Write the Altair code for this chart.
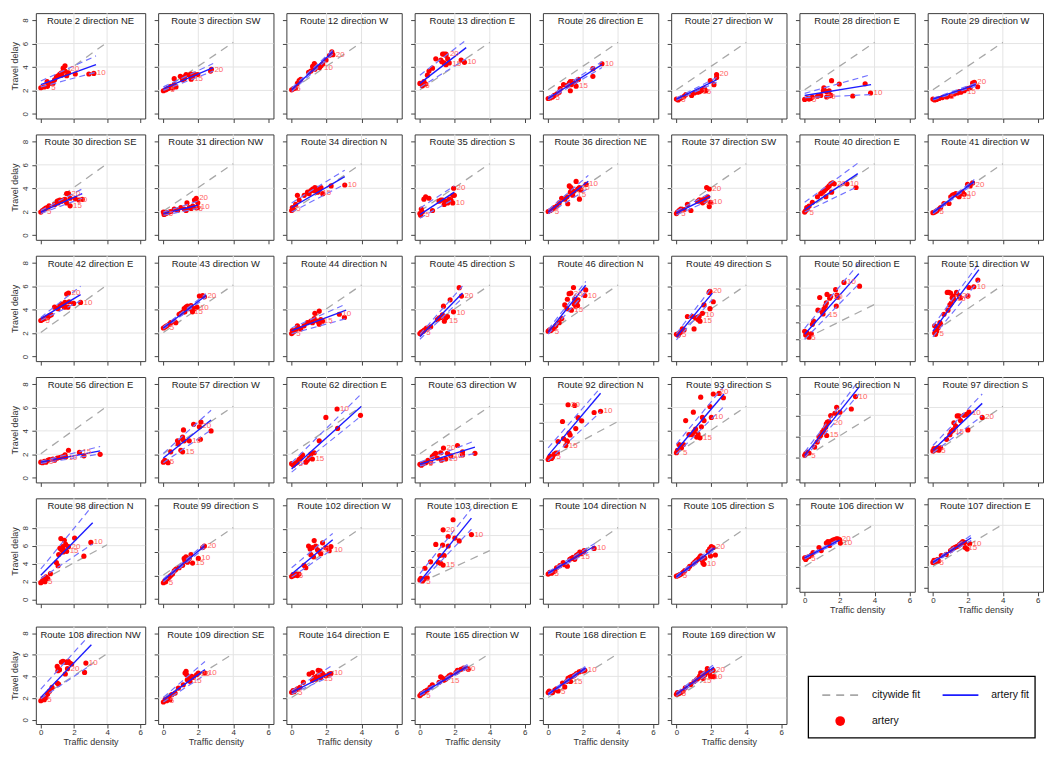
import altair as alt
import pandas as pd

FONT = "Liberation Sans"

# ---------------- panel identity ----------------
ROUTES = [2, 3, 12, 13, 26, 27, 28, 29,
          30, 31, 34, 35, 36, 37, 40, 41,
          42, 43, 44, 45, 46, 49, 50, 51,
          56, 57, 62, 63, 92, 93, 96, 97,
          98, 99, 102, 103, 104, 105, 106, 107,
          108, 109, 164, 165, 168, 169]
DIRECTIONS = ["NE", "SW", "W", "E", "E", "W", "E", "W",
              "SE", "NW", "N", "S", "NE", "SW", "E", "W",
              "E", "W", "N", "S", "N", "S", "E", "W",
              "E", "W", "E", "W", "N", "S", "N", "S",
              "N", "S", "W", "E", "N", "S", "W", "E",
              "NW", "SE", "E", "W", "E", "W"]

X_TICKS = [0, 2, 4, 6]
Y_TICKS = [0, 2, 4, 6, 8]
GRID_X = [2, 4]
GRID_Y = [2, 4, 6, 8]
CITY_X = [0, 4]
CITY_Y = [2.05, 6.1]
LEGEND_LABELS = ["citywide fit", "artery fit", "artery"]

# panels whose y range differs from the usual one
Y_RANGE = {50: (-0.55, 11.8), 92: (-0.5, 10.9), 96: (-0.3, 9.6),
           98: (-0.5, 11.3), 103: (-0.6, 12.7)}

# ---------------- observations (traffic density, travel delay) ----------------
P2 = [(0,2.23),(0.2,2.3),(0.4,2.35),(0.5,2.6),(0.38,2.75),(0.73,2.6),(0.83,2.9),(0.94,3.15),(1.04,3.25),(1.15,3.4),(1.25,3.5),(1.25,3.3),(1.35,3.9),(1.46,4.1),(1.46,3.65),(1.56,3.25),(1.67,3.5),(2.08,3.4),(2.9,3.4),(3.2,3.45)]
P3 = [(0,1.97),(0.14,2.05),(0.23,2.15),(0.33,2.2),(0.43,2.35),(0.52,2.2),(0.62,2.5),(0.72,2.3),(0.62,3.0),(0.97,3.2),(1.1,2.9),(1.2,3.15),(1.3,3.35),(1.2,3.0),(1.49,3.3),(1.59,2.95),(1.68,3.15),(1.59,3.4),(1.78,3.4),(1.97,3.35),(2.75,3.8),(2.7,3.65)]
P12 = [(0,2.05),(0.1,2.15),(0.23,2.2),(0.33,2.6),(0.43,2.85),(0.52,2.95),(0.97,3.55),(1.1,3.65),(1.2,4.05),(1.3,4.3),(1.33,3.8),(1.45,4.0),(1.6,3.95),(1.68,4.1),(1.97,4.6),(1.78,4.25),(2.17,5.0),(2.3,5.3),(2.36,5.05)]
P13 = [(0,2.6),(0.14,2.4),(0.23,2.75),(0.33,2.55),(0.43,3.3),(0.52,3.65),(0.72,3.9),(0.91,4.7),(1.2,4.6),(1.3,5.1),(1.39,5.1),(1.49,5.1),(1.39,4.35),(1.26,4.45),(1.59,4.7),(1.49,4.2),(1.68,4.35),(1.49,5.0),(2.36,4.6),(2.55,4.4)]
P26 = [(0,1.31),(0.12,1.36),(0.25,1.44),(0.35,1.57),(0.5,1.7),(0.63,1.84),(0.69,2.15),(0.88,2.49),(1.08,2.41),(1.21,2.62),(1.27,2.76),(1.31,2.49),(1.35,2.67),(1.4,2.76),(1.5,2.62),(1.6,2.36),(1.27,1.97),(1.73,2.94),(2.56,3.2),(2.56,3.86),(3.08,4.28)]
P27 = [(0,1.26),(0.1,1.18),(0.21,1.31),(0.31,1.39),(0.44,1.5),(0.54,1.65),(0.87,1.57),(1.02,1.78),(1.21,1.84),(1.31,1.89),(1.4,1.97),(1.5,2.05),(1.6,2.15),(1.69,1.97),(1.94,2.83),(2.15,2.49),(2.3,3.1),(2.3,3.36)]
P28 = [(0,1.23),(0.15,1.31),(0.25,1.26),(0.35,1.31),(0.44,1.44),(0.73,1.5),(0.92,1.57),(1.07,1.97),(1.1,2.23),(1.26,1.89),(1.4,1.97),(1.5,1.57),(1.54,2.83),(1.98,2.55),(1.26,1.44),(2.75,1.52),(3.46,2.57),(3.77,1.78)]
P29 = [(0,1.26),(0.1,1.18),(0.21,1.23),(0.35,1.31),(0.54,1.39),(0.79,1.44),(1.02,1.52),(1.21,1.7),(1.4,1.78),(1.5,1.89),(1.6,1.84),(1.79,1.97),(1.98,2.15),(2.13,2.23),(2.27,2.62),(2.37,2.7),(2.56,2.31)]
P30 = [(0,1.97),(0.1,2.1),(0.2,2.2),(0.3,2.3),(0.4,2.35),(0.5,2.5),(0.83,2.6),(1.0,2.9),(1.04,2.75),(1.15,3.0),(1.25,2.9),(1.35,3.0),(1.46,3.05),(1.56,3.55),(1.67,3.55),(1.77,3.15),(1.77,2.5),(2.08,3.1),(2.3,3.0),(2.5,3.05),(1.56,2.75)]
P31 = [(0,1.97),(0.04,1.76),(0.14,1.84),(0.23,1.92),(0.33,1.97),(0.43,2.02),(0.62,2.23),(0.81,2.1),(1.0,2.36),(1.2,2.23),(1.3,2.1),(1.35,2.75),(1.49,2.36),(1.59,2.28),(1.68,2.49),(1.78,3.0),(1.88,3.15),(1.97,2.76),(1.88,2.36),(1.97,2.36)]
P34 = [(0,2.1),(0.1,2.23),(0.04,2.36),(0.23,2.62),(0.33,3.4),(0.43,3.0),(0.72,3.4),(0.91,3.67),(1.0,3.54),(1.1,3.8),(1.2,3.94),(1.3,3.8),(1.33,4.07),(1.45,4.0),(1.49,3.67),(1.59,3.94),(1.68,4.07),(1.78,3.54),(2.26,4.2),(3.04,4.28)]
P35 = [(0,1.84),(0.04,1.7),(0.14,1.97),(0.08,2.23),(0.23,3.07),(0.33,3.28),(0.52,3.15),(0.72,2.1),(1.1,2.9),(1.2,3.0),(1.3,3.0),(1.39,2.62),(1.49,2.9),(1.59,2.75),(1.68,3.07),(1.78,3.0),(1.88,3.4),(1.93,4.0),(1.97,3.4),(1.88,2.75)]
P36 = [(0,2.02),(0.12,2.1),(0.25,2.23),(0.35,2.36),(0.5,2.49),(0.63,2.75),(0.77,3.15),(0.96,3.07),(1.08,3.28),(1.12,2.68),(1.21,4.2),(1.31,4.07),(1.27,3.67),(1.4,3.41),(1.46,3.75),(1.6,4.59),(1.69,3.94),(1.79,3.07),(1.79,4.07),(1.88,3.86),(2.17,4.33)]
P37 = [(0,1.84),(0.06,1.97),(0.15,2.1),(0.25,2.23),(0.44,2.18),(0.63,2.62),(0.83,2.1),(1.21,2.89),(1.31,3.02),(1.4,2.89),(1.5,3.02),(1.6,2.89),(1.63,3.07),(1.73,4.07),(1.88,3.94),(1.79,3.28),(1.88,2.44),(1.94,2.81),(1.5,2.76)]
P40 = [(0,1.97),(0.06,2.1),(0.15,2.23),(0.12,2.36),(0.25,2.49),(0.44,2.81),(0.73,3.28),(0.92,3.54),(1.02,3.67),(1.12,3.8),(1.21,3.94),(1.31,4.07),(1.4,4.2),(1.5,4.38),(1.6,4.46),(1.69,4.38),(1.54,3.67),(1.21,3.28),(2.42,4.38),(2.94,4.07)]
P41 = [(0,1.92),(0.1,1.97),(0.21,2.07),(0.35,2.23),(0.44,2.36),(0.63,2.7),(0.92,2.7),(1.02,3.28),(1.12,3.41),(1.21,3.46),(1.31,3.54),(1.4,3.41),(1.5,3.28),(1.6,3.54),(1.69,3.67),(1.79,3.49),(1.98,4.33),(2.13,4.2),(2.27,4.46)]
P42 = [(0,3.07),(0.1,3.15),(0.21,3.23),(0.31,3.28),(0.42,3.33),(0.52,3.49),(0.63,3.55),(0.83,4.21),(1.04,4.08),(1.15,4.35),(1.25,4.48),(1.35,4.35),(1.46,4.61),(1.42,4.21),(1.56,5.33),(1.67,5.41),(1.63,4.21),(1.71,4.67),(1.98,4.53),(2.4,4.61)]
P43 = [(0,2.43),(0.1,2.53),(0.19,2.61),(0.33,2.75),(0.42,2.88),(0.62,3.01),(0.71,2.88),(0.9,3.6),(1.0,3.68),(1.1,3.76),(1.19,4.08),(1.23,3.81),(1.29,4.21),(1.38,4.29),(1.48,4.08),(1.58,4.35),(1.67,3.81),(1.77,4.08),(1.92,4.21),(2.06,5.15),(2.25,5.2),(2.35,5.09)]
P44 = [(0,1.95),(0.04,2.21),(0.1,2.08),(0.23,2.27),(0.33,2.61),(0.42,2.43),(0.52,2.35),(0.71,2.61),(0.9,2.88),(1.1,3.01),(1.19,2.88),(1.29,3.23),(1.33,3.68),(1.48,3.01),(1.58,3.87),(1.58,2.75),(1.67,3.15),(1.77,3.01),(2.73,3.6),(3.02,3.33)]
P45 = [(0,1.95),(0.08,2.08),(0.19,2.16),(0.27,2.27),(0.38,2.43),(0.62,2.53),(1.0,3.15),(1.1,3.28),(1.19,3.33),(1.29,3.55),(1.35,4.29),(1.48,3.28),(1.58,3.41),(1.73,4.83),(1.92,3.81),(2.25,5.87),(2.38,5.15),(1.4,3.01)]
P46 = [(0,2.16),(0.08,2.27),(0.15,2.21),(0.25,2.35),(0.34,2.43),(0.44,2.61),(0.63,2.88),(0.78,3.23),(0.95,4.4),(1.07,4.08),(1.1,4.88),(1.2,5.36),(1.3,5.41),(1.33,3.95),(1.45,5.89),(1.49,4.48),(1.52,4.88),(1.58,4.29),(1.64,4.61),(1.68,4.35),(1.71,4.83),(2.1,5.2),(2.15,5.68)]
P49 = [(0,1.89),(0.1,1.81),(0.15,1.95),(0.25,2.08),(0.34,2.35),(0.44,2.27),(0.63,3.41),(0.91,3.41),(1.01,2.35),(1.1,3.28),(1.2,3.33),(1.24,3.15),(1.35,3.01),(1.3,3.41),(1.49,3.68),(1.58,4.4),(1.87,5.47),(1.92,5.55),(1.92,4.08),(2.11,4.67)]
P50 = [(0,2.95),(0.06,2.5),(0.13,2.77),(0.25,2.26),(0.38,2.66),(0.44,3.76),(0.51,4.13),(0.76,5.42),(0.86,6.9),(1.01,5.17),(1.1,5.54),(1.18,5.9),(1.24,6.27),(1.05,4.98),(1.28,7.27),(1.43,6.83),(1.49,7.01),(1.77,7.82),(1.85,7.2),(1.81,5.9),(1.9,6.94),(2.25,8.67),(3.14,8.23)]
P51 = [(0.1,2.0),(0.15,1.89),(0.21,2.16),(0.1,2.61),(0.29,2.43),(0.4,2.88),(0.44,2.75),(0.63,3.6),(0.86,3.95),(0.97,4.4),(1.05,4.56),(0.82,5.47),(0.91,5.47),(1.01,5.41),(1.1,5.01),(1.16,5.15),(1.35,5.47),(1.49,5.2),(1.58,5.01),(1.2,4.88),(2.0,5.15),(2.06,5.89),(2.34,5.95),(2.57,6.53)]
P56 = [(0,1.33),(0.1,1.28),(0.21,1.41),(0.31,1.33),(0.42,1.49),(0.52,1.55),(0.73,1.6),(0.83,1.49),(1.0,1.68),(1.15,1.73),(1.25,1.76),(1.35,1.81),(1.46,1.95),(1.5,1.76),(1.67,2.35),(2.33,2.16),(2.6,1.87),(3.58,2.0)]
P57 = [(0,1.33),(0.08,1.49),(0.19,1.41),(0.27,1.28),(0.42,2.21),(0.81,3.15),(0.85,2.88),(1.1,3.28),(1.1,3.47),(1.15,4.08),(1.19,3.15),(1.0,2.35),(1.1,2.21),(1.48,3.15),(1.73,4.56),(2.06,4.35),(2.15,4.75),(2.12,3.28),(2.73,4.0)]
P62 = [(0,1.2),(0.1,1.07),(0.23,1.23),(0.33,1.33),(0.42,1.55),(0.52,1.68),(0.62,1.95),(0.81,1.33),(0.9,1.49),(1.0,1.68),(1.1,2.03),(1.19,1.6),(1.29,2.13),(1.58,3.15),(1.96,5.15),(2.6,5.87),(2.63,4.21),(3.94,5.33)]
P63 = [(0,1.15),(0.08,1.07),(0.19,1.2),(0.33,1.28),(0.46,1.49),(0.62,1.33),(0.71,1.81),(0.81,1.95),(0.9,2.08),(1.0,1.68),(1.19,2.13),(1.23,1.49),(1.35,2.53),(1.48,1.6),(1.58,2.08),(1.77,1.87),(2.15,2.75),(2.44,2.21),(2.44,1.95),(3.15,2.08)]
P92 = [(0,1.98),(0.06,2.19),(0.11,2.33),(0.19,2.09),(0.25,2.26),(0.34,2.54),(0.44,2.68),(0.53,2.68),(0.57,3.93),(0.82,6.09),(0.88,4.24),(1.01,3.48),(1.07,4.0),(1.1,3.93),(1.14,7.9),(1.2,4.87),(1.26,4.63),(1.52,7.83),(1.58,5.32),(1.71,6.5),(1.92,6.16),(2.63,7.06),(3.0,7.2)]
P93 = [(0,2.13),(0.06,2.35),(0.15,2.83),(0.29,2.56),(0.4,2.83),(0.53,4.88),(0.72,3.68),(0.91,3.68),(0.97,5.6),(1.01,3.95),(1.1,4.16),(1.16,3.47),(1.24,3.73),(1.35,3.41),(1.39,6.88),(1.43,4.35),(1.49,5.15),(1.58,4.88),(1.92,6.08),(2.0,5.15),(2.11,7.15),(2.44,7.2),(2.69,6.83)]
P96 = [(0,2.24),(0.06,2.4),(0.15,2.55),(0.25,2.46),(0.57,3.02),(0.72,3.49),(0.82,3.96),(0.91,4.11),(1.01,4.42),(1.1,4.64),(1.2,4.89),(1.24,5.2),(1.3,5.36),(1.39,5.42),(1.49,5.98),(1.73,6.2),(1.83,6.76),(2.02,6.29),(2.67,6.6),(2.91,7.76),(1.26,4.11)]
P97 = [(0,2.29),(0.06,2.48),(0.15,2.4),(0.25,2.56),(0.34,2.35),(0.44,2.56),(0.78,3.28),(0.97,3.68),(1.05,3.95),(1.16,4.08),(1.2,4.69),(1.3,4.4),(1.39,5.28),(1.49,5.28),(1.58,4.88),(1.77,5.33),(1.92,5.41),(2.06,5.6),(2.0,4.08),(2.82,5.15)]
P98 = [(0,1.86),(0.1,2.07),(0.17,2.32),(0.25,1.96),(0.31,2.5),(0.42,2.32),(0.58,2.86),(0.94,4.11),(1.04,3.75),(1.08,5.0),(1.15,5.71),(1.21,6.79),(1.25,5.54),(1.29,5.89),(1.35,5.71),(1.42,6.61),(1.5,6.14),(1.56,5.36),(1.67,5.89),(1.35,5.29),(2.04,6.86),(2.6,4.82),(3.02,6.36)]
P99 = [(0,1.39),(0.08,1.55),(0.13,1.47),(0.23,1.73),(0.33,1.87),(0.42,2.0),(0.52,2.13),(0.62,2.4),(0.71,2.53),(0.9,2.67),(1.1,2.88),(1.19,3.47),(1.23,3.25),(1.29,3.6),(1.35,3.33),(1.38,3.15),(1.48,3.47),(1.58,3.79),(1.67,3.07),(2.0,3.47),(2.35,4.53),(2.25,4.4)]
P102 = [(0,1.92),(0.08,2.08),(0.13,2.0),(0.23,2.13),(0.33,2.0),(0.42,2.13),(0.71,2.88),(0.81,2.67),(0.97,4.53),(1.06,4.27),(1.1,3.79),(1.19,4.4),(1.29,4.99),(1.38,4.53),(1.25,3.6),(1.48,4.21),(1.58,4.05),(1.67,3.87),(1.77,4.8),(1.96,4.4),(2.15,4.13),(2.25,4.48)]
P103 = [(0,2.4),(0.06,2.6),(0.15,2.28),(0.23,2.48),(0.29,3.88),(0.42,2.68),(0.61,4.68),(0.91,6.88),(1.05,4.6),(1.14,5.48),(1.18,4.52),(1.3,6.8),(1.33,4.28),(1.39,5.48),(1.33,8.72),(1.62,7.88),(1.62,6.68),(1.9,10.0),(2.0,7.68),(2.25,7.32),(2.95,8.12)]
P104 = [(0,2.13),(0.1,2.27),(0.19,2.21),(0.29,2.32),(0.38,2.4),(0.48,2.67),(0.67,2.85),(0.86,3.12),(0.95,2.93),(1.1,2.8),(1.24,3.39),(1.33,3.47),(1.43,3.55),(1.52,3.39),(1.62,3.73),(1.71,3.81),(1.81,4.0),(1.9,3.87),(2.0,4.0),(2.06,4.13),(2.63,4.32)]
P105 = [(0,1.95),(0.1,2.0),(0.19,2.08),(0.29,2.16),(0.38,2.27),(0.48,2.43),(0.67,2.61),(0.76,2.8),(0.95,3.01),(1.05,3.15),(1.14,3.28),(1.24,3.41),(1.33,3.55),(1.39,3.68),(1.47,3.33),(1.52,3.07),(1.58,2.96),(1.62,3.49),(1.81,4.08),(1.9,4.29),(2.0,4.48),(2.1,4.4),(1.95,3.68),(2.23,3.76)]
P106 = [(0,2.86),(0.06,2.71),(0.13,2.91),(0.25,3.0),(0.38,3.14),(0.48,3.37),(0.82,3.86),(0.95,3.57),(1.24,4.29),(1.33,4.43),(1.43,4.34),(1.52,4.49),(1.62,4.57),(1.71,4.63),(1.81,4.71),(1.9,4.71),(2.0,4.63),(2.04,4.29),(1.43,4.06)]
P107 = [(0,2.43),(0.06,2.63),(0.13,2.51),(0.25,2.71),(0.32,2.57),(0.48,3.09),(0.76,3.2),(1.01,3.57),(1.14,3.77),(1.24,3.86),(1.33,3.94),(1.43,4.0),(1.52,4.14),(1.62,4.29),(1.71,4.43),(1.81,4.34),(1.85,3.86),(1.96,3.71),(2.1,4.23)]
P108 = [(0,1.75),(0.1,1.94),(0.21,1.85),(0.31,2.06),(0.41,2.37),(0.52,2.62),(0.68,2.98),(0.99,3.38),(1.07,3.29),(0.99,4.92),(1.03,4.52),(1.13,4.62),(1.24,5.32),(1.34,5.38),(1.44,5.32),(1.55,5.29),(1.65,5.38),(1.75,5.23),(1.48,4.22),(1.61,4.71),(1.86,5.14),(2.64,4.37),(2.72,5.23)]
P109 = [(0,1.63),(0.1,1.85),(0.19,1.75),(0.29,2.0),(0.38,1.85),(0.48,2.31),(0.67,2.46),(0.86,2.92),(1.14,3.23),(1.24,4.31),(1.3,4.46),(1.33,4.15),(1.37,3.69),(1.52,3.54),(1.62,4.0),(1.71,3.91),(1.9,4.15),(2.0,4.31),(2.38,4.31),(1.49,3.85)]
P164 = [(0,2.53),(0.08,2.68),(0.13,2.59),(0.23,2.74),(0.33,2.84),(0.48,2.99),(0.67,3.45),(1.0,4.21),(1.19,4.36),(1.29,3.9),(1.38,3.75),(1.48,4.05),(1.52,4.57),(1.63,4.51),(1.67,3.9),(1.77,4.27),(1.96,4.05),(2.15,4.21),(2.25,4.27),(1.19,3.66)]
P165 = [(0,2.23),(0.08,2.38),(0.19,2.47),(0.29,2.62),(0.42,2.74),(0.58,2.99),(0.71,3.23),(1.1,3.45),(1.19,3.96),(1.29,3.84),(1.38,3.66),(1.48,3.75),(1.58,3.9),(1.67,4.05),(1.77,4.15),(2.06,4.36),(2.15,4.57),(2.35,4.66),(2.5,4.76),(2.77,4.66)]
P168 = [(0,2.5),(0.06,2.65),(0.13,2.56),(0.25,2.5),(0.38,2.74),(0.48,2.85),(0.57,2.65),(0.82,3.38),(0.95,3.03),(1.05,3.53),(1.14,3.82),(1.24,3.91),(1.33,3.97),(1.43,4.03),(1.52,4.12),(1.62,4.26),(1.77,4.41),(1.9,4.5),(2.0,4.5),(2.1,4.56),(1.28,3.53)]
P169 = [(0,2.35),(0.06,2.5),(0.13,2.41),(0.25,2.5),(0.38,2.65),(0.51,2.94),(0.82,3.24),(1.01,3.53),(1.14,3.68),(1.24,3.82),(1.33,4.03),(1.39,4.32),(1.47,3.97),(1.52,3.82),(1.62,4.12),(1.66,4.32),(1.77,4.71),(1.9,4.26),(2.1,4.56),(2.15,3.97),(1.96,3.97)]

# ---------------- hour labels on selected observations ----------------
L2 = [(0.45,2.2,"5"),(1.6,3.85,"20"),(3.2,3.45,"10")]
L3 = [(0.23,2.05,"5"),(1.59,2.95,"15"),(2.75,3.75,"20")]
L12 = [(0.1,2.1,"5"),(1.68,3.95,"10"),(2.36,5.05,"20")]
L13 = [(0.14,2.4,"5"),(1.68,4.25,"15"),(1.55,5.1,"20"),(2.55,4.4,"10")]
L26 = [(0.25,1.35,"5"),(1.6,2.36,"15"),(3.08,4.28,"10")]
L27 = [(0.1,1.18,"5"),(1.31,1.85,"15"),(2.3,3.36,"20")]
L28 = [(0.25,1.2,"5"),(1.1,1.45,"20"),(3.77,1.78,"10")]
L29 = [(0.8,1.4,"5"),(1.79,1.9,"15"),(2.37,2.7,"20")]
L30 = [(0.2,1.95,"5"),(1.67,3.55,"20"),(1.77,2.5,"15"),(2.08,3.0,"10")]
L31 = [(0.14,1.78,"5"),(1.59,2.25,"15"),(1.88,3.15,"20"),(1.97,2.4,"10")]
L34 = [(0.1,2.2,"5"),(1.59,3.6,"15"),(3.04,4.28,"10")]
L35 = [(0.14,1.75,"5"),(1.93,4.0,"20"),(1.88,2.75,"10")]
L36 = [(0.2,2.0,"5"),(1.5,3.4,"15"),(1.7,4.0,"20"),(2.17,4.33,"10")]
L37 = [(0.1,1.8,"5"),(1.5,2.76,"15"),(1.88,3.94,"20"),(1.94,2.81,"10")]
L40 = [(0.1,1.9,"5"),(1.69,4.35,"20"),(2.42,4.38,"10")]
L41 = [(0.2,1.95,"5"),(1.5,3.25,"15"),(1.79,3.49,"10"),(2.27,4.3,"20")]
L42 = [(0.1,3.05,"5"),(1.67,5.41,"20"),(2.4,4.55,"10")]
L43 = [(0.19,2.45,"5"),(1.58,3.76,"15"),(1.92,4.15,"10"),(2.35,5.15,"20")]
L44 = [(0.1,1.95,"5"),(1.67,3.05,"15"),(2.73,3.6,"10")]
L45 = [(0.19,2.0,"5"),(1.5,3.0,"15"),(1.92,3.75,"10"),(2.38,5.15,"20")]
L46 = [(0.2,2.1,"5"),(1.33,3.95,"15"),(1.3,5.35,"20"),(2.1,5.2,"10")]
L49 = [(0.15,1.85,"5"),(1.35,3.0,"15"),(1.49,3.5,"10"),(1.92,5.55,"20")]
L50 = [(0.2,2.2,"5"),(1.2,4.9,"15"),(1.5,7.0,"20"),(2.25,8.67,"10")]
L51 = [(0.2,1.95,"5"),(1.2,4.9,"15"),(1.49,5.2,"20"),(2.34,5.95,"10")]
L56 = [(0.31,1.3,"5"),(1.5,1.72,"10"),(2.33,2.16,"15")]
L57 = [(0.2,1.35,"5"),(1.1,2.21,"15"),(1.48,3.15,"10"),(2.06,4.45,"20")]
L62 = [(0.23,1.15,"5"),(1.19,1.6,"15"),(2.6,5.87,"10")]
L63 = [(0.33,1.2,"5"),(1.48,1.6,"15"),(1.77,1.85,"10"),(1.35,2.53,"20")]
L92 = [(0.3,2.2,"5"),(1.01,3.48,"15"),(1.14,7.9,"20"),(3.0,7.2,"10")]
L93 = [(0.2,2.1,"5"),(1.35,3.41,"15"),(2.0,5.15,"10"),(2.3,7.3,"20")]
L96 = [(0.2,2.2,"5"),(1.26,4.11,"15"),(1.5,5.3,"20"),(2.91,7.76,"10")]
L97 = [(0.3,2.3,"5"),(1.1,3.9,"15"),(2.06,5.55,"10"),(2.82,5.15,"20")]
L98 = [(0.25,1.9,"5"),(1.56,5.36,"15"),(1.67,5.89,"20"),(3.02,6.36,"10")]
L99 = [(0.13,1.4,"5"),(1.67,3.07,"15"),(2.0,3.47,"10"),(2.35,4.5,"20")]
L102 = [(0.23,2.0,"5"),(1.48,4.2,"20"),(2.25,4.2,"10")]
L103 = [(0.2,2.2,"5"),(1.33,4.28,"15"),(1.33,8.72,"20"),(2.95,8.12,"10")]
L104 = [(0.19,2.1,"5"),(1.71,3.6,"15"),(2.63,4.32,"10")]
L105 = [(0.19,1.95,"5"),(1.58,2.96,"10"),(2.1,4.4,"20")]
L106 = [(0.2,2.8,"5"),(1.95,4.7,"20"),(2.04,4.29,"10")]
L107 = [(0.2,2.4,"5"),(1.85,3.86,"15"),(2.1,4.23,"10")]
L108 = [(0.21,1.8,"5"),(1.61,4.71,"20"),(2.72,5.23,"10")]
L109 = [(0.19,1.7,"5"),(1.52,3.54,"15"),(2.0,4.2,"20"),(2.38,4.31,"10")]
L164 = [(0.2,2.5,"5"),(1.67,3.8,"15"),(2.25,4.27,"10")]
L165 = [(0.2,2.2,"5"),(1.58,3.6,"15"),(2.5,4.7,"20")]
L168 = [(0.57,2.6,"5"),(1.28,3.5,"15"),(2.1,4.56,"10")]
L169 = [(0.13,2.35,"5"),(1.33,3.6,"15"),(1.96,3.97,"10"),(2.1,4.56,"20")]

# ---------------- artery fit: (x start, x end, y start, y end) ----------------
FITS = [(0,3.33,2.5,4.2),(0,2.85,2.15,3.95),(0,2.36,2.05,5.3),(0,2.65,2.6,5.65),
        (0,3.08,1.31,4.2),(0,2.3,1.26,2.9),(0,3.8,1.57,2.49),(0,2.46,1.26,2.49),
        (0,2.5,1.97,3.55),(0,1.97,1.84,2.55),(0,3.04,2.36,5.0),(0,1.97,1.75,3.67),
        (0,2.3,1.97,4.6),(0,1.94,1.89,3.3),(0,3.04,2.18,5.25),(0,2.37,1.92,4.59),
        (0,2.4,3.23,5.28),(0,2.44,2.43,5.2),(0,3.12,2.21,3.95),(0,2.44,1.68,5.41),
        (0,2.15,2.08,6.08),(0,2.06,1.68,5.41),(0,3.1,2.6,9.7),(0,2.63,2.16,7.41),
        (0,3.58,1.33,2.29),(0,2.73,1.68,4.93),(0,3.98,0.75,6.08),(0,3.15,1.15,2.61),
        (0,3.0,2.43,9.15),(0,2.72,2.35,7.15),(0,3.1,2.24,8.63),(0,2.82,2.35,6.35),
        (0,3.13,2.68,8.57),(0,2.35,1.6,4.53),(0,2.35,2.13,5.07),(0,2.95,2.2,10.2),
        (0,2.67,2.21,4.53),(0,2.19,1.89,4.35),(0,2.0,2.86,4.57),(0,2.19,2.43,4.8),
        (0,3.05,2.06,6.92),(0,2.38,1.85,4.62),(0,2.29,2.53,4.36),(0,2.77,2.32,4.97),
        (0,2.15,2.35,4.79),(0,2.15,2.35,4.85)]

# ---------------- confidence bands: (upper start, upper end, lower start, lower end) ----------------
CIS = [(2.8,4.95,2.3,3.55),(2.3,4.3,2.0,3.65),(2.2,5.45,1.9,5.1),(3.3,6.3,2.25,4.7),
       (1.42,4.45,1.2,3.95),(1.36,3.1,1.16,2.7),(1.75,3.35,1.38,1.65),(1.33,2.62,1.19,2.36),
       (2.1,3.95,1.85,3.15),(1.97,2.9,1.7,2.28),(2.75,5.55,1.97,4.35),(2.3,4.2,1.45,3.1),
       (2.15,5.1,1.82,4.0),(2.05,3.6,1.72,3.0),(2.8,6.15,1.97,4.15),(2.02,4.75,1.82,4.43),
       (3.33,6.0,3.07,4.75),(2.53,5.35,2.33,5.05),(2.43,4.48,1.95,3.23),(1.89,6.0,1.47,5.0),
       (2.3,6.4,1.9,5.5),(1.95,5.95,1.41,4.88),(3.3,10.9,2.0,8.5),(2.61,7.95,1.68,6.48),
       (1.41,2.67,1.23,2.03),(2.08,5.76,1.28,4.08),(1.28,7.15,0.48,5.28),(1.33,3.15,1.01,2.08),
       (3.23,9.74,1.84,7.13),(2.88,7.81,2.03,6.08),(2.55,9.25,2.02,8.0),(2.75,7.15,2.13,5.28),
       (3.39,10.5,2.32,6.2),(1.72,4.7,1.48,4.36),(2.67,5.6,1.87,4.27),(3.2,11.4,2.0,8.8),
       (2.31,4.75,2.11,4.31),(1.99,4.55,1.79,4.15),(2.96,4.7,2.76,4.44),(2.53,5.05,2.33,4.55),
       (2.83,8.0,1.94,5.08),(2.06,5.38,1.63,4.15),(2.68,4.97,2.38,4.05),(2.42,5.15,2.22,4.79),
       (2.45,4.95,2.25,4.63),(2.5,5.1,2.2,4.6)]

POINTS = [P2, P3, P12, P13, P26, P27, P28, P29, P30, P31, P34, P35, P36, P37, P40, P41,
          P42, P43, P44, P45, P46, P49, P50, P51, P56, P57, P62, P63, P92, P93, P96, P97,
          P98, P99, P102, P103, P104, P105, P106, P107, P108, P109, P164, P165, P168, P169]
LABELS = [L2, L3, L12, L13, L26, L27, L28, L29, L30, L31, L34, L35, L36, L37, L40, L41,
          L42, L43, L44, L45, L46, L49, L50, L51, L56, L57, L62, L63, L92, L93, L96, L97,
          L98, L99, L102, L103, L104, L105, L106, L107, L108, L109, L164, L165, L168, L169]

RED = "#ff0000"
LABEL_RED = "#ff6464"
FIT_BLUE = "#1c1cff"
CI_BLUE = "#7373ff"
CITY_GRAY = "#a8a8a8"
GRID = "#e4e4e4"


def panel(k, col, show_x, h):
    route = ROUTES[k]
    title = f"Route {route} direction {DIRECTIONS[k]}"
    w = 110 if col == 0 else 116
    ylo, yhi = Y_RANGE.get(route, (-0.4, 8.6))
    xsc = alt.Scale(domain=[-0.3, 6.3], nice=False, zero=False)
    ysc = alt.Scale(domain=[ylo, yhi], nice=False, zero=False)

    xax = dict(values=X_TICKS, grid=False, domain=False, tickSize=4,
               labels=show_x, labelFlush=False)
    if show_x:
        xax.update(title="Traffic density", labelFontSize=8, titleFontSize=9,
                   labelPadding=1, titlePadding=1, titleFontWeight="normal")
    else:
        xax.update(title=None)
    yax = dict(values=Y_TICKS, grid=False, domain=False, tickSize=4,
               labels=(col == 0), labelFlush=False)
    if col == 0:
        yax.update(title="Travel delay", labelAngle=270, labelAlign="center",
                   labelBaseline="bottom", labelPadding=2, titlePadding=2,
                   labelFontSize=8, titleFontSize=9, titleFontWeight="normal")
    else:
        yax.update(title=None)

    X = alt.X("x:Q", scale=xsc, axis=alt.Axis(**xax))
    Y = alt.Y("y:Q", scale=ysc, axis=alt.Axis(**yax))

    gy = [g for g in GRID_Y if g <= yhi - 1.2]

    grid_v = alt.Chart(pd.DataFrame({"x": GRID_X})).mark_rule(
        color=GRID, strokeWidth=1).encode(x=X)
    grid_h = alt.Chart(pd.DataFrame({"y": gy})).mark_rule(
        color=GRID, strokeWidth=1).encode(y=Y)
    city = alt.Chart(pd.DataFrame({"x": CITY_X, "y": CITY_Y})).mark_line(
        color=CITY_GRAY, strokeDash=[8, 6], strokeWidth=1.3, clip=True).encode(x=X, y=Y)
    pts = alt.Chart(pd.DataFrame(POINTS[k], columns=["x", "y"])).mark_circle(
        size=27, color=RED, opacity=1).encode(x=X, y=Y)
    x0, x1, y0, y1 = FITS[k]
    u0, u1, l0, l1 = CIS[k]
    ci_df = pd.DataFrame({"x": [x0, x1, x0, x1], "y": [u0, u1, l0, l1],
                          "band": ["upper", "upper", "lower", "lower"]})
    ci = alt.Chart(ci_df).mark_line(
        color=CI_BLUE, strokeDash=[6, 4], strokeWidth=1.2, clip=True).encode(
        x=X, y=Y, detail="band:N")
    fit = alt.Chart(pd.DataFrame({"x": [x0, x1], "y": [y0, y1]})).mark_line(
        color=FIT_BLUE, strokeWidth=1.4, clip=True).encode(x=X, y=Y)
    labs = alt.Chart(pd.DataFrame(LABELS[k], columns=["x", "y", "t"])).mark_text(
        align="left", baseline="middle", dx=3, fontSize=8, color=LABEL_RED,
        font=FONT).encode(x=X, y=Y, text="t:N")
    ttl = alt.Chart(pd.DataFrame({"t": [title]})).mark_text(
        baseline="top", align="center", fontSize=9.5, color="#222222",
        font=FONT).encode(x=alt.value(w / 2), y=alt.value(3), text="t:N")
    return alt.layer(grid_v, grid_h, city, pts, ci, fit, labs, ttl).properties(
        width=w, height=h)


def legend_chart():
    one = pd.DataFrame({"a": [0]})
    box = alt.Chart(one).mark_rect(fill="white", stroke="#000000", strokeWidth=1.3).encode(
        x=alt.value(14), x2=alt.value(242), y=alt.value(50), y2=alt.value(112))
    l_city = alt.Chart(one).mark_rule(color=CITY_GRAY, strokeDash=[8, 6], strokeWidth=1.8).encode(
        x=alt.value(28), x2=alt.value(64), y=alt.value(69))
    l_fit = alt.Chart(one).mark_rule(color=FIT_BLUE, strokeWidth=1.8).encode(
        x=alt.value(149), x2=alt.value(185), y=alt.value(69))
    l_dot = alt.Chart(one).mark_circle(color=RED, size=95, opacity=1).encode(
        x=alt.value(46), y=alt.value(95))
    texts = []
    for lab, xx, yy in [(LEGEND_LABELS[0], 78, 69), (LEGEND_LABELS[1], 198, 69),
                        (LEGEND_LABELS[2], 78, 95)]:
        texts.append(alt.Chart(pd.DataFrame({"t": [lab]})).mark_text(
            align="left", baseline="middle", fontSize=10.5, color="#111111",
            font=FONT).encode(x=alt.value(xx), y=alt.value(yy), text="t:N"))
    return alt.layer(box, l_city, l_fit, l_dot, *texts).properties(
        width=246, height=124, view=alt.ViewBackground(strokeOpacity=0))


rows = []
for r in range(6):
    charts = []
    for c in range(8):
        k = r * 8 + c
        if k >= len(ROUTES):
            break
        if r == 5:
            charts.append(panel(k, c, True, 98))
        elif r == 4 and c >= 6:
            charts.append(panel(k, c, True, 94))
        else:
            charts.append(panel(k, c, False, 106))
    if r == 5:
        charts.append(legend_chart())
    rows.append(alt.hconcat(*charts, spacing=7))

chart = alt.vconcat(*rows, spacing=10).properties(
    padding={"left": 2, "top": 2, "right": 2, "bottom": 2},
    background="white"
).configure_view(
    stroke="#3c3c3c", strokeWidth=1
).configure_axis(
    labelFont=FONT, titleFont=FONT, labelColor="#333333", titleColor="#333333",
    tickColor="#444444", tickWidth=1, titleFontWeight="normal"
)

chart.save("out.html", embed_options={"renderer": "svg", "actions": False})
